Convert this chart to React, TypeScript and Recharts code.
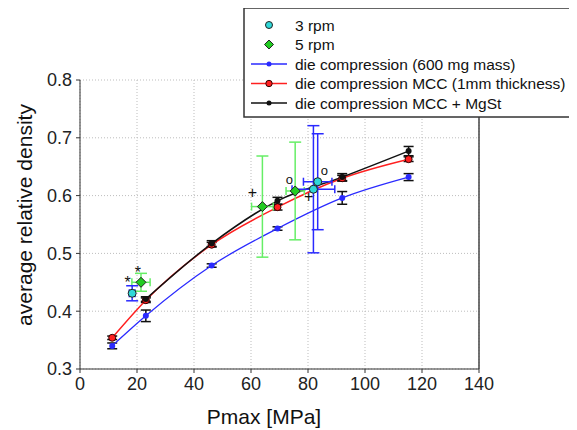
import React from 'react';
import {
  ComposedChart,
  Line,
  Scatter,
  XAxis,
  YAxis,
  CartesianGrid,
  ErrorBar,
  ReferenceLine,
} from 'recharts';

// ---- data ----
const pressures = [11.3, 23.1, 46.2, 69.3, 92.0, 115.3];
const massDensity = [0.340, 0.392, 0.479, 0.543, 0.596, 0.632];
const massErr = [0.005, 0.01, 0.003, 0.003, 0.011, 0.006];
const mccDensity = [0.354, 0.419, 0.515, 0.580, 0.630, 0.663];
const mccErr = [0.003, 0.004, 0.004, 0.005, 0.005, 0.004];
const mgstPressures = [23.1, 46.2, 69.3, 92.0, 115.3];
const mgstDensity = [0.421, 0.517, 0.591, 0.632, 0.677];
const mgstErr = [0.004, 0.005, 0.006, 0.006, 0.008];

const rpm3Pressure = [18.3, 81.9, 83.4];
const rpm3Density = [0.431, 0.611, 0.624];
const rpm3ErrY = [0.013, 0.11, 0.083];
const rpm3ErrX = [1.0, 7.5, 5.0];

const rpm5Pressure = [21.4, 64.0, 75.5];
const rpm5Density = [0.450, 0.581, 0.608];
const rpm5ErrY = [0.0155, 0.0875, 0.0845];
const rpm5ErrX = [3.2, 3.8, 3.2];

const markPressure = [16.7, 20.3, 60.5, 73.5, 80.2, 85.7];
const markDensity = [0.455, 0.473, 0.605, 0.627, 0.598, 0.641];
const markText = ['*', '*', '+', 'o', '+', 'o'];

const xTicks = [0, 20, 40, 60, 80, 100, 120, 140];
const yTicks = [0.3, 0.4, 0.5, 0.6, 0.7, 0.8];

const legendLabels = [
  '3 rpm',
  '5 rpm',
  'die compression (600 mg mass)',
  'die compression MCC (1mm thickness)',
  'die compression MCC + MgSt',
];

// ---- build rows ----
const rows = (xs: number[], ys: number[], es: number[]) =>
  xs.map((x, i) => ({ x, y: ys[i], e: es[i] }));
const massRows = rows(pressures, massDensity, massErr);
const mccRows = rows(pressures, mccDensity, mccErr);
const mgstRows = rows(mgstPressures, mgstDensity, mgstErr);
const rpm3Rows = rpm3Pressure.map((x, i) => ({ x, y: rpm3Density[i], ey: rpm3ErrY[i], ex: rpm3ErrX[i] }));
const rpm5Rows = rpm5Pressure.map((x, i) => ({ x, y: rpm5Density[i], ey: rpm5ErrY[i], ex: rpm5ErrX[i] }));
const markRows = markPressure.map((x, i) => ({ x, y: markDensity[i], t: markText[i] }));

const FONT = '"Liberation Sans", Arial, sans-serif';
const BLUE = '#2a2aff';
const RED = '#ff2020';
const BLACK = '#111111';
const CYAN = '#30d8d8';
const GREEN = '#22cc22';
const LGREEN = '#66ee66';

const Circle = (p: any) => (
  <circle cx={p.cx} cy={p.cy} r={4} fill={CYAN} stroke="#222" strokeWidth={1} />
);
const Diamond = (p: any) => {
  const s = 5;
  return (
    <path
      d={`M${p.cx},${p.cy - s}L${p.cx + s},${p.cy}L${p.cx},${p.cy + s}L${p.cx - s},${p.cy}Z`}
      fill={GREEN}
      stroke="#222"
      strokeWidth={1}
    />
  );
};
const Mark = (p: any) => {
  const t = p.payload?.t ?? p.t;
  const fs = t === 'o' ? 13 : 16;
  const off = t === '*' ? 0.55 : t === '+' ? 0.33 : 0.27;
  return (
    <text
      x={p.cx}
      y={p.cy + off * fs}
      textAnchor="middle"
      fontFamily={FONT}
      fontSize={fs}
      fill="#111"
    >
      {t}
    </text>
  );
};

const Legend = () => {
  const rowsY = [18, 37.5, 57, 76.5, 96];
  return (
    <svg width={345} height={112} style={{ position: 'absolute', left: 235, top: -1 }}>
      <rect x={1} y={1} width={360} height={109} fill="#fff" stroke="#333" strokeWidth={1.5} />
      <circle cx={26} cy={rowsY[0]} r={3.5} fill={CYAN} stroke="#222" strokeWidth={1} />
      <path
        d={`M26,${rowsY[1] - 4.5}L30.5,${rowsY[1]}L26,${rowsY[1] + 4.5}L21.5,${rowsY[1]}Z`}
        fill={GREEN}
        stroke="#222"
        strokeWidth={1}
      />
      <line x1={8} x2={44} y1={rowsY[2]} y2={rowsY[2]} stroke={BLUE} strokeWidth={1.5} />
      <circle cx={26} cy={rowsY[2]} r={2.5} fill={BLUE} />
      <line x1={8} x2={44} y1={rowsY[3]} y2={rowsY[3]} stroke={RED} strokeWidth={1.5} />
      <circle cx={26} cy={rowsY[3]} r={3.2} fill={RED} stroke="#300" strokeWidth={1} />
      <line x1={8} x2={44} y1={rowsY[4]} y2={rowsY[4]} stroke={BLACK} strokeWidth={1.5} />
      <circle cx={26} cy={rowsY[4]} r={2.5} fill={BLACK} />
      {legendLabels.map((l, i) => (
        <text
          key={l}
          x={52}
          y={rowsY[i]}
          dominantBaseline="central"
          fontFamily={FONT}
          fontSize={15.5}
          fill="#111"
        >
          {l}
        </text>
      ))}
    </svg>
  );
};

export default function App() {
  return (
    <div style={{ position: 'relative', width: 569, height: 422, overflow: 'hidden' }}>
      <ComposedChart
        width={569}
        height={422}
        margin={{ top: 72, right: 98, bottom: 0, left: 0 }}
      >
        <CartesianGrid stroke="#bdbdbd" strokeDasharray="1 2" />
        <XAxis
          dataKey="x"
          type="number"
          domain={[0, 140]}
          ticks={xTicks}
          allowDataOverflow
          height={61}
          tickSize={4}
          tickMargin={4}
          stroke="#333"
          tick={{ fill: '#222', fontSize: 18, fontFamily: FONT }}
          label={{
            content: () => (
              <text
                x={256}
                y={408}
                textAnchor="middle"
                dominantBaseline="central"
                fontFamily={FONT}
                fontSize={21}
                fill="#111"
              >
                Pmax [MPa]
              </text>
            ),
          }}
        />
        <YAxis
          dataKey="y"
          type="number"
          domain={[0.3, 0.8]}
          ticks={yTicks}
          allowDataOverflow
          width={72}
          tickSize={4}
          tickMargin={4}
          stroke="#333"
          tickFormatter={(v: number) => v.toFixed(1)}
          tick={{ fill: '#222', fontSize: 18, fontFamily: FONT }}
          label={{
            content: () => (
              <text
                x={16}
                y={207}
                transform="rotate(-90 16 207)"
                textAnchor="middle"
                dominantBaseline="central"
                fontFamily={FONT}
                fontSize={21}
                fill="#111"
              >
                average relative density
              </text>
            ),
          }}
        />
        <ReferenceLine x={140} stroke="#444" strokeWidth={1.5} />
        <Line
          data={massRows}
          dataKey="y"
          type="monotone"
          stroke={BLUE}
          strokeWidth={1.3}
          dot={{ r: 3, fill: BLUE, stroke: BLUE, strokeWidth: 0 }}
          isAnimationActive={false}
        >
          <ErrorBar dataKey="e" width={5} stroke={BLACK} strokeWidth={1.5} direction="y" />
        </Line>
        <Line
          data={mccRows}
          dataKey="y"
          type="monotone"
          stroke={RED}
          strokeWidth={1.5}
          dot={{ r: 3.5, fill: RED, stroke: '#300', strokeWidth: 1 }}
          isAnimationActive={false}
        >
          <ErrorBar dataKey="e" width={5} stroke={BLACK} strokeWidth={1.5} direction="y" />
        </Line>
        <Line
          data={mgstRows}
          dataKey="y"
          type="monotone"
          stroke={BLACK}
          strokeWidth={1.5}
          dot={{ r: 3, fill: BLACK, stroke: BLACK, strokeWidth: 0 }}
          isAnimationActive={false}
        >
          <ErrorBar dataKey="e" width={5} stroke={BLACK} strokeWidth={1.5} direction="y" />
        </Line>
        <Scatter data={rpm5Rows} dataKey="y" shape={Diamond} isAnimationActive={false}>
          <ErrorBar dataKey="ey" width={6} stroke={LGREEN} strokeWidth={1.5} direction="y" />
          <ErrorBar dataKey="ex" width={4} stroke={LGREEN} strokeWidth={1.5} direction="x" />
        </Scatter>
        <Scatter data={rpm3Rows} dataKey="y" shape={Circle} isAnimationActive={false}>
          <ErrorBar dataKey="ey" width={6} stroke={BLUE} strokeWidth={1.5} direction="y" />
          <ErrorBar dataKey="ex" width={4} stroke={BLUE} strokeWidth={1.5} direction="x" />
        </Scatter>
        <Scatter data={markRows} dataKey="y" shape={Mark} isAnimationActive={false} />
      </ComposedChart>
      <Legend />
    </div>
  );
}
